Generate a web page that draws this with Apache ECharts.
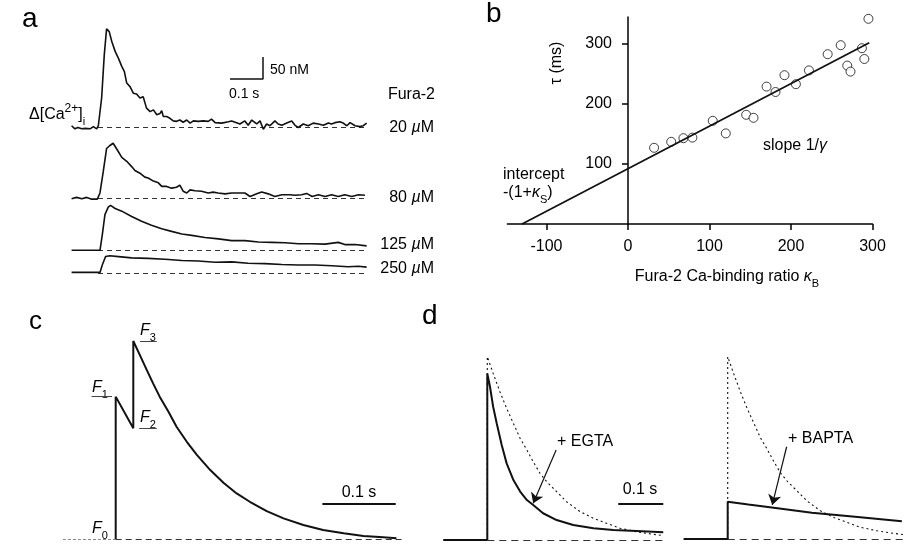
<!DOCTYPE html>
<html lang="en">
<head>
<meta charset="UTF-8" />
<title>Fura-2 Ca transients</title>
<script src="https://cdn.jsdelivr.net/npm/echarts@6/dist/echarts.min.js"></script>
<style>
  html, body { margin: 0; padding: 0; background: #fff; }
  #main { width: 909px; height: 544px; }
</style>
</head>
<body>
<div id="main"></div>
<script>
// ---- panel a: Δ[Ca] transients (time s, nM) for four Fura-2 concentrations
var fura20 = [[-0.080,4],[-0.070,-3],[-0.061,0],[-0.049,-3],[-0.039,-2],[-0.024,-3],[-0.014,2],[-0.004,-3],
  [0.001,4],[0.011,67],[0.019,165],[0.026,224],[0.034,218],[0.042,195],[0.052,173],[0.062,157],[0.072,139],
  [0.080,127],[0.087,101],[0.097,93],[0.107,78],[0.117,76],[0.127,67],[0.137,70],[0.147,44],[0.158,36],
  [0.168,40],[0.178,29],[0.188,32],[0.193,38],[0.198,25],[0.208,25],[0.218,21],[0.228,15],[0.238,14],
  [0.248,17],[0.258,12],[0.269,17],[0.279,10],[0.289,15],[0.304,14],[0.319,15],[0.334,14],[0.344,19],
  [0.355,11],[0.375,10],[0.395,13],[0.405,15],[0.420,11],[0.430,8],[0.445,15],[0.455,5],[0.466,17],
  [0.481,8],[0.491,15],[0.501,-4],[0.511,8],[0.521,4],[0.536,15],[0.546,8],[0.557,5],[0.572,10],[0.587,15],
  [0.597,5],[0.607,0],[0.622,8],[0.637,4],[0.652,10],[0.668,8],[0.683,5],[0.698,10],[0.708,8],[0.718,11],
  [0.733,13],[0.743,10],[0.754,4],[0.764,11],[0.779,4],[0.794,2],[0.804,4],[0.814,10]];
var fura80 = [[-0.080,0],[-0.065,3],[-0.049,0],[-0.034,3],[-0.019,-1],[-0.002,-1],[0.006,13],[0.016,62],
  [0.026,114],[0.036,121],[0.046,126],[0.052,124],[0.060,109],[0.072,94],[0.087,85],[0.102,73],[0.112,64],
  [0.127,58],[0.142,49],[0.152,47],[0.168,40],[0.183,36],[0.193,28],[0.208,28],[0.223,24],[0.238,26],
  [0.248,31],[0.258,17],[0.269,13],[0.279,20],[0.294,18],[0.314,17],[0.334,13],[0.349,15],[0.364,13],
  [0.385,11],[0.405,13],[0.425,13],[0.445,13],[0.461,5],[0.481,11],[0.496,15],[0.516,11],[0.536,5],
  [0.557,9],[0.582,9],[0.597,8],[0.617,9],[0.632,12],[0.649,5],[0.668,9],[0.688,5],[0.708,9],[0.728,5],
  [0.748,9],[0.769,5],[0.789,9],[0.809,8]];
var fura125 = [[-0.080,0],[0.006,0],[0.013,35],[0.021,81],[0.031,98],[0.038,102],[0.052,95],[0.072,89],
  [0.102,77],[0.132,66],[0.162,57],[0.193,49],[0.223,43],[0.254,37],[0.284,34],[0.324,29],[0.365,26],
  [0.405,22],[0.445,22],[0.486,19],[0.526,18],[0.567,17],[0.607,15],[0.647,15],[0.688,14],[0.728,18],
  [0.748,13],[0.779,13],[0.814,10]];
var fura250 = [[-0.080,2],[0.006,2],[0.013,19],[0.023,38],[0.036,40],[0.062,38],[0.102,35],[0.152,34],
  [0.203,32],[0.254,29],[0.304,28],[0.355,25],[0.405,26],[0.455,23],[0.506,22],[0.557,20],[0.607,19],
  [0.658,19],[0.708,17],[0.758,15],[0.789,16],[0.814,14]];
var traceLabels = ['20', '80', '125', '250'];
var scaleBarA = [[0.4,110],[0.5,110],[0.5,160]];   // 0.1 s / 50 nM

// ---- panel b: decay time constant vs Fura-2 binding ratio
var kappaB = [32,53,68,79,104,120,145,154,170,181,192,206,222,245,261,269,273,287,290,295];
var tauMs  = [127,137,143,144,172,151,182,177,229,220,248,233,256,283,298,264,254,293,275,342];
var fitLine = [[-130,0],[296,302]];
var kappaTicks = [-100,0,100,200,300];
var tauTicks = [100,200,300];

// ---- panel c: fluorescence trace F0..F3 (time s, normalised)
var traceC = [[0,0],[0,0.719],[0.024,0.559],[0.024,1.0],[0.033,0.929],[0.042,0.857],[0.051,0.786],
  [0.060,0.719],[0.072,0.643],[0.083,0.567],[0.097,0.491],[0.111,0.424],[0.129,0.348],[0.147,0.284],
  [0.165,0.230],[0.183,0.188],[0.206,0.141],[0.229,0.104],[0.256,0.071],[0.283,0.045],[0.311,0.029],
  [0.338,0.015],[0.365,0.009],[0.383,0.004]];
var fLevels = [[-0.033,-0.005,0.719],[0.032,0.056,0.559],[0.033,0.056,1.0]];
var scaleBarC = [[0.282,0.18],[0.382,0.18]];

// ---- panel d: simulated transients, control vs + EGTA / + BAPTA
var control = [[0,0],[0,1.0],[0.013,0.909],[0.028,0.809],[0.043,0.718],[0.058,0.636],[0.073,0.554],
  [0.088,0.491],[0.102,0.427],[0.117,0.364],[0.132,0.318],[0.154,0.264],[0.176,0.209],[0.206,0.155],
  [0.236,0.118],[0.265,0.091],[0.295,0.064],[0.332,0.045],[0.369,0.031],[0.391,0.024]];
var egta = [[-0.098,0],[0,0],[0,0.909],[0.006,0.836],[0.013,0.727],[0.021,0.636],[0.032,0.518],
  [0.043,0.418],[0.058,0.327],[0.073,0.264],[0.088,0.218],[0.102,0.191],[0.124,0.146],[0.154,0.109],
  [0.191,0.082],[0.236,0.064],[0.280,0.055],[0.332,0.049],[0.391,0.042]];
var bapta = [[-0.098,0],[0,0],[0,0.204],[0.046,0.189],[0.098,0.173],[0.187,0.144],[0.283,0.122],[0.387,0.098]];
var egtaArrow = [[0.153,0.491],[0.102,0.200]];
var baptaArrow = [[0.131,0.506],[0.099,0.187]];
var scaleBarD = [[0.291,0.196],[0.391,0.196]];

var FONT = '"Liberation Sans", Arial, Helvetica, sans-serif';
var INK = '#111';

// frame of each plot: pixel origin (x0,y0), pixels per unit (sx,sy), data extent
var frames = [
  {x0:98, sx:330, xmin:-0.08, xmax:0.815, y0:127.5, sy:0.44, ymin:-12, ymax:230},
  {x0:98, sx:330, xmin:-0.08, xmax:0.815, y0:198.7, sy:0.44, ymin:-12, ymax:130},
  {x0:98, sx:330, xmin:-0.08, xmax:0.815, y0:250.3, sy:0.44, ymin:-12, ymax:110},
  {x0:98, sx:330, xmin:-0.08, xmax:0.815, y0:273.3, sy:0.44, ymin:-12, ymax:45},
  {x0:628, sx:0.815, xmin:-148, xmax:300, y0:224, sy:0.6, ymin:0, ymax:345},
  {x0:115.7, sx:733, xmin:-0.072, xmax:0.39, y0:539, sy:198, ymin:-0.02, ymax:1.05},
  {x0:487.3, sx:450, xmin:-0.098, xmax:0.393, y0:540, sy:183.3, ymin:-0.02, ymax:1.02},
  {x0:727.7, sx:450, xmin:-0.098, xmax:0.393, y0:539, sy:182.3, ymin:-0.02, ymax:1.02}
];

var grids = [], xAxes = [], yAxes = [];
frames.forEach(function (f, i) {
  grids.push({
    left: f.x0 + f.xmin * f.sx, width: (f.xmax - f.xmin) * f.sx,
    top: f.y0 - f.ymax * f.sy, height: (f.ymax - f.ymin) * f.sy,
    containLabel: false, outerBoundsMode: 'none'
  });
  xAxes.push({type: 'value', gridIndex: i, min: f.xmin, max: f.xmax, show: false});
  yAxes.push({type: 'value', gridIndex: i, min: f.ymin, max: f.ymax, show: false});
});

var axisInk = {color: '#000', width: 1.5};
xAxes[4] = {
  type: 'value', gridIndex: 4, min: -148, max: 300,
  axisLine: {show: true, onZero: false, lineStyle: axisInk},
  axisTick: {show: true, length: 6, customValues: kappaTicks, lineStyle: axisInk},
  axisLabel: {customValues: kappaTicks, margin: 15, fontSize: 16, color: '#000', fontFamily: FONT},
  splitLine: {show: false}
};
// y axis crosses the x axis at kappa = 0: shift it right from the grid's left edge
yAxes[4] = {
  type: 'value', gridIndex: 4, min: 0, max: 345, position: 'left',
  offset: -(0 - frames[4].xmin) * frames[4].sx,
  axisLine: {show: true, onZero: false, lineStyle: axisInk},
  axisTick: {show: true, length: 6, customValues: tauTicks, lineStyle: axisInk},
  axisLabel: {customValues: tauTicks, margin: 16, fontSize: 16, color: '#000', fontFamily: FONT},
  splitLine: {show: false}
};

function trace(gi, data, width, dash, color) {
  return {
    type: 'line', xAxisIndex: gi, yAxisIndex: gi, data: data,
    showSymbol: false, symbol: 'none', silent: true, animation: false,
    lineStyle: {color: color || INK, width: width, type: dash || 'solid'}
  };
}
function segs(gi, list, width, dash, color, arrow) {
  return {
    type: 'lines', coordinateSystem: 'cartesian2d', xAxisIndex: gi, yAxisIndex: gi,
    data: list.map(function (c) { return {coords: c}; }),
    symbol: arrow ? ['none', 'arrow'] : 'none', symbolSize: arrow ? [6, 10] : 0,
    silent: true, animation: false,
    lineStyle: {color: color || INK, width: width, type: dash || 'solid', opacity: 1}
  };
}

var series = [];
[fura20, fura80, fura125, fura250].forEach(function (d, i) {
  series.push(trace(i, d, 1.6));
  series.push(segs(i, [[[0, 0], [0.815, 0]]], 1, [5, 4], '#333'));
});
series.push(trace(0, scaleBarA, 1.5));

series.push({
  type: 'scatter', xAxisIndex: 4, yAxisIndex: 4, silent: true, animation: false,
  data: kappaB.map(function (k, i) { return [k, tauMs[i]]; }),
  symbol: 'circle', symbolSize: 9,
  itemStyle: {color: '#fff', borderColor: INK, borderWidth: 1}
});
series.push(trace(4, fitLine, 1.8));

series.push(segs(5, [[[-0.072, 0], [0, 0]]], 1, [3, 2], '#888'));
series.push(segs(5, [[[0, 0], [0.39, 0]]], 1.2, [6, 4], '#333'));
series.push(trace(5, traceC, 2));
series.push(segs(5, fLevels.map(function (l) { return [[l[0], l[2]], [l[1], l[2]]]; }), 1, null, '#444'));
series.push(segs(5, [scaleBarC], 2));

series.push(segs(6, [[[0, 0], [0.391, 0]]], 1.2, [7, 5], '#333'));
series.push(trace(6, control, 1.1, [2, 3]));
series.push(trace(6, egta, 2));
series.push(segs(6, [egtaArrow], 1.2, null, INK, true));
series.push(segs(6, [scaleBarD], 2));

series.push(segs(7, [[[0, 0], [0.391, 0]]], 1.2, [7, 5], '#333'));
series.push(trace(7, control, 1.1, [2, 3]));
series.push(trace(7, bapta, 2));
series.push(segs(7, [baptaArrow], 1.2, null, INK, true));

function txt(x, y, text, extra, rich) {
  var st = {text: text, fill: '#000', fontSize: 16, fontFamily: FONT,
    textAlign: 'left', align: 'left', textVerticalAlign: 'middle', verticalAlign: 'middle'};
  for (var k in (extra || {})) st[k] = extra[k];
  if (rich) st.rich = rich;
  return {type: 'text', x: x, y: y, silent: true, style: st};
}
function rt(o) { var r = {fontFamily: FONT, fill: '#000'}; for (var k in o) r[k] = o[k]; return r; }
var subRich = {
  n: rt({fontSize: 16, lineHeight: 24}),
  i: rt({fontSize: 16, lineHeight: 24, fontStyle: 'italic'}),
  s: rt({fontSize: 11, lineHeight: 12, verticalAlign: 'bottom'}),
  p: rt({fontSize: 12, lineHeight: 12, verticalAlign: 'top'})
};
var right = {textAlign: 'right', align: 'right'};
var center = {textAlign: 'center', align: 'center'};

var graphics = [
  txt(22, 19, 'a', {fontSize: 28}),
  txt(270, 70, '50 nM', {fontSize: 14}),
  txt(229, 94, '0.1 s', {fontSize: 14}),
  txt(435, 95, 'Fura-2', right),
  txt(29, 115, '{n|Δ[Ca}{p|2+}{n|]}{s|i}', null, subRich),
  txt(486, 14, 'b', {fontSize: 28}),
  {type: 'text', x: 557, y: 63, rotation: Math.PI / 2, silent: true,
    style: {text: 'τ (ms)', fill: '#000', fontSize: 16, fontFamily: FONT,
      textAlign: 'center', align: 'center', textVerticalAlign: 'middle', verticalAlign: 'middle'}},
  txt(727, 277, '{n|Fura-2 Ca-binding ratio }{i|κ}{s|B}', center, subRich),
  txt(503, 175, 'intercept'),
  txt(503, 193, '{n|-(1+}{i|κ}{s|S}{n|)}', null, subRich),
  txt(763, 146, '{n|slope 1/}{i|γ}', null, subRich),
  txt(29, 322, 'c', {fontSize: 26}),
  txt(92, 529, '{i|F}{s|0}', null, subRich),
  txt(92, 388, '{i|F}{s|1}', null, subRich),
  txt(140, 418, '{i|F}{s|2}', null, subRich),
  txt(140, 331, '{i|F}{s|3}', null, subRich),
  txt(359, 493, '0.1 s', center),
  txt(422, 316, 'd', {fontSize: 28}),
  txt(557, 442, '+ EGTA'),
  txt(788, 439, '+ BAPTA'),
  txt(640, 490, '0.1 s', center)
];
var labelY = [128, 198, 245, 269];
traceLabels.forEach(function (c, i) {
  graphics.push(txt(434, labelY[i], '{n|' + c + ' }{i|µ}{n|M}', right, subRich));
});

var chart = echarts.init(document.getElementById('main'));
chart.setOption({
  backgroundColor: '#fff',
  animation: false,
  grid: grids,
  xAxis: xAxes,
  yAxis: yAxes,
  series: series,
  graphic: {elements: graphics}
});
</script>
</body>
</html>
